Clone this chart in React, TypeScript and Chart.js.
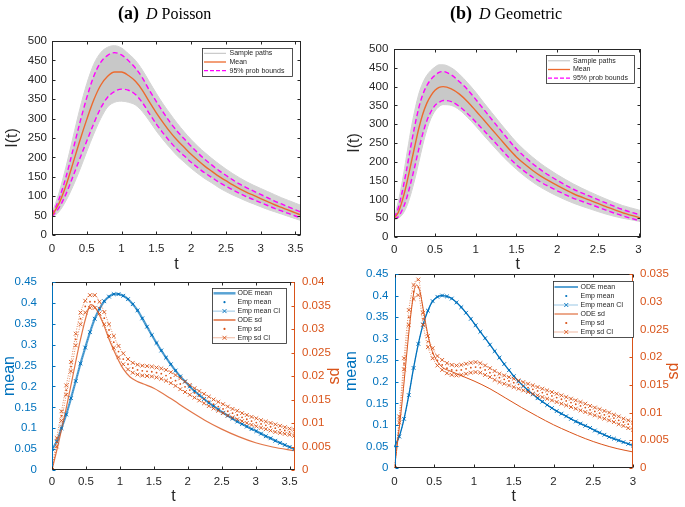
import React, { useEffect, useRef } from "react";
import { Chart, registerables } from "chart.js";
Chart.register(...registerables);

// ---------------- DATA ----------------
// (a) D Poisson — top panel: I(t)
const tTopA = [0, 0.1, 0.2, 0.3, 0.4, 0.5, 0.6, 0.7, 0.8, 0.9, 1.0, 1.1, 1.2, 1.3, 1.4, 1.5, 1.6, 1.7, 1.8, 1.9, 2.0, 2.1, 2.2, 2.3, 2.4, 2.5, 2.6, 2.7, 2.8, 2.9, 3.0, 3.1, 3.2, 3.3, 3.4, 3.5, 3.6];
const meanTopA = [50, 81, 127, 184, 243, 298, 348, 386, 409, 420, 420, 411, 396, 373, 343, 315, 289, 265, 244, 226, 208, 192, 177, 164, 151, 140, 129, 119, 110, 102, 94, 86, 78, 71, 64, 57, 50];
const upperTopA = [52, 92, 149, 218, 289, 354, 409, 445, 463, 470, 464, 449, 430, 405, 373, 344, 316, 290, 267.5, 248, 228.5, 211, 194.5, 180, 166, 154, 142, 131, 121.5, 113, 104.5, 96, 87.5, 80, 72.5, 65, 58];
const lowerTopA = [48, 70, 105, 150, 197, 242, 287, 327, 355, 370, 376, 373, 362, 341, 313, 286, 262, 240, 220.5, 204, 187.5, 173, 159.5, 148, 136, 126, 116, 107, 98.5, 91, 83.5, 76, 68.5, 62, 55.5, 49, 42];
const pathsMaxA = [56, 108, 175, 250, 325, 390, 440, 470, 484, 488, 482, 467, 450, 425, 395, 365, 337, 312, 288, 266, 246, 228, 212, 197, 183, 170, 158, 147, 137, 128, 120, 112, 104, 96, 89, 82, 75];
const pathsMinA = [45, 60, 88, 125, 168, 215, 260, 300, 330, 342, 345, 342, 335, 318, 294, 268, 245, 224, 204, 188, 172, 158, 145, 134, 122, 112, 103, 95, 87, 80, 73, 66, 60, 54, 48, 42, 36];

// (b) D Geometric — top panel: I(t)
const tTopB = [0, 0.05, 0.1, 0.15, 0.2, 0.25, 0.3, 0.35, 0.4, 0.45, 0.5, 0.55, 0.6, 0.7, 0.8, 0.9, 1.0, 1.1, 1.2, 1.3, 1.4, 1.5, 1.6, 1.7, 1.8, 1.9, 2.0, 2.2, 2.4, 2.6, 2.8, 3.0, 3.03];
const meanTopB = [50, 66, 98, 140, 190, 240, 288, 327, 356, 376, 390, 398, 400, 394, 380, 360, 336, 311, 286, 261, 236, 213, 194, 177, 162, 149, 137, 115, 98, 81, 65, 52, 50];
const upperTopB = [52, 78, 123, 178, 238, 294, 343, 379, 403, 419, 430, 438, 440, 431, 413, 392, 366, 339, 312, 285.5, 259, 234, 213.5, 195, 178.5, 164, 151, 127, 108.5, 90.5, 73.5, 60, 58];
const lowerTopB = [48, 54, 73, 102, 142, 186, 233, 275, 309, 333, 350, 358, 363, 360, 347, 328, 306, 283, 260, 236.5, 213, 192, 174.5, 159, 145.5, 134, 123, 103, 87.5, 71.5, 56.5, 44, 42];
const pathsMaxB = [55, 95, 150, 215, 280, 335, 380, 410, 430, 443, 452, 458, 458, 450, 433, 410, 385, 357, 330, 303, 277, 252, 231, 212, 195, 180, 166, 141, 120, 101, 84, 72, 70];
const pathsMinB = [45, 50, 60, 80, 112, 152, 198, 245, 285, 315, 335, 347, 352, 350, 338, 318, 295, 270, 246, 222, 200, 180, 162, 146, 132, 120, 109, 90, 75, 61, 50, 42, 40];

// (a) bottom panel: mean / sd
const tEmpA = [0, 0.07, 0.14, 0.21, 0.28, 0.35, 0.42, 0.49, 0.56, 0.63, 0.7, 0.77, 0.84, 0.91, 0.98, 1.05, 1.12, 1.19, 1.26, 1.33, 1.4, 1.47, 1.54, 1.61, 1.68, 1.75, 1.82, 1.89, 1.96, 2.03, 2.1, 2.17, 2.24, 2.31, 2.38, 2.45, 2.52, 2.59, 2.66, 2.73, 2.8, 2.87, 2.94, 3.01, 3.08, 3.15, 3.22, 3.29, 3.36, 3.43, 3.5, 3.57];
const meanA = [0.05, 0.068, 0.1, 0.133, 0.172, 0.213, 0.255, 0.293, 0.33, 0.362, 0.386, 0.404, 0.415, 0.421, 0.421, 0.417, 0.409, 0.397, 0.382, 0.363, 0.343, 0.323, 0.304, 0.286, 0.269, 0.253, 0.238, 0.224, 0.212, 0.2, 0.189, 0.179, 0.17, 0.161, 0.153, 0.145, 0.137, 0.13, 0.123, 0.116, 0.11, 0.104, 0.098, 0.093, 0.087, 0.081, 0.076, 0.07, 0.065, 0.06, 0.055, 0.05];
const sdLoA = [0, 0.005, 0.0105, 0.016, 0.021, 0.0265, 0.031, 0.0335, 0.0345, 0.0345, 0.0333, 0.031, 0.0285, 0.026, 0.024, 0.0225, 0.0214, 0.0207, 0.0203, 0.0201, 0.02, 0.0199, 0.0197, 0.0194, 0.019, 0.0185, 0.0179, 0.0172, 0.0166, 0.016, 0.0154, 0.0148, 0.0142, 0.0136, 0.0131, 0.0126, 0.0121, 0.0116, 0.0112, 0.0108, 0.0104, 0.01, 0.0096, 0.0093, 0.009, 0.0087, 0.0084, 0.0081, 0.0079, 0.0077, 0.0075, 0.0073];
const sdHiA = [0, 0.0068, 0.0125, 0.018, 0.023, 0.029, 0.0335, 0.036, 0.0372, 0.0372, 0.0358, 0.0336, 0.031, 0.0285, 0.0264, 0.0248, 0.0236, 0.0228, 0.0224, 0.0222, 0.0221, 0.022, 0.0218, 0.0216, 0.0213, 0.0208, 0.0202, 0.0195, 0.0188, 0.0181, 0.0174, 0.0168, 0.0162, 0.0156, 0.015, 0.0145, 0.014, 0.0135, 0.013, 0.0126, 0.0121, 0.0117, 0.0113, 0.011, 0.0106, 0.0103, 0.01, 0.0097, 0.0094, 0.0091, 0.0088, 0.0086];
const sdEmpA = [0, 0.0059, 0.0115, 0.017, 0.022, 0.0278, 0.0322, 0.0348, 0.0358, 0.0358, 0.0345, 0.0323, 0.0298, 0.0272, 0.0252, 0.0236, 0.0225, 0.0217, 0.0213, 0.0211, 0.021, 0.0209, 0.0207, 0.0205, 0.0201, 0.0196, 0.019, 0.0183, 0.0177, 0.017, 0.0164, 0.0158, 0.0152, 0.0146, 0.014, 0.0135, 0.013, 0.0125, 0.0121, 0.0117, 0.0112, 0.0108, 0.0104, 0.0101, 0.0098, 0.0095, 0.0092, 0.0089, 0.0086, 0.0084, 0.0081, 0.0079];
const tSdOdeA = [0, 0.1, 0.2, 0.3, 0.4, 0.5, 0.57, 0.65, 0.75, 0.85, 0.95, 1.05, 1.15, 1.25, 1.35, 1.5, 1.75, 2.0, 2.25, 2.5, 2.75, 3.0, 3.25, 3.58];
const sdOdeA = [0, 0.006, 0.0125, 0.0195, 0.0265, 0.0325, 0.0352, 0.0343, 0.0313, 0.0275, 0.0242, 0.0215, 0.0198, 0.0189, 0.0183, 0.0174, 0.0152, 0.0128, 0.0106, 0.0087, 0.0071, 0.0058, 0.0049, 0.0041];

// (b) bottom panel: mean / sd
const tEmpB = [0, 0.06, 0.12, 0.18, 0.24, 0.3, 0.36, 0.42, 0.48, 0.54, 0.6, 0.66, 0.72, 0.78, 0.84, 0.9, 0.96, 1.02, 1.08, 1.14, 1.2, 1.26, 1.32, 1.38, 1.44, 1.5, 1.56, 1.62, 1.68, 1.74, 1.8, 1.86, 1.92, 1.98, 2.04, 2.1, 2.16, 2.22, 2.28, 2.34, 2.4, 2.46, 2.52, 2.58, 2.64, 2.7, 2.76, 2.82, 2.88, 2.94, 3.0];
const meanB = [0.05, 0.073, 0.114, 0.169, 0.232, 0.288, 0.333, 0.365, 0.387, 0.397, 0.4, 0.398, 0.393, 0.384, 0.373, 0.36, 0.346, 0.331, 0.316, 0.301, 0.286, 0.271, 0.256, 0.241, 0.227, 0.213, 0.201, 0.19, 0.18, 0.171, 0.162, 0.154, 0.146, 0.139, 0.132, 0.126, 0.12, 0.114, 0.108, 0.103, 0.098, 0.093, 0.087, 0.082, 0.077, 0.072, 0.068, 0.064, 0.06, 0.056, 0.052];
const sdLoB = [0, 0.0082, 0.0178, 0.0258, 0.0305, 0.0312, 0.0258, 0.0218, 0.0198, 0.0185, 0.0177, 0.0171, 0.0168, 0.0167, 0.0168, 0.017, 0.0172, 0.0173, 0.0172, 0.0168, 0.0164, 0.0159, 0.0155, 0.0152, 0.0149, 0.0146, 0.0143, 0.014, 0.0137, 0.0134, 0.0131, 0.0128, 0.0125, 0.0122, 0.0119, 0.0116, 0.0113, 0.011, 0.0107, 0.0104, 0.0101, 0.0098, 0.0095, 0.0092, 0.0089, 0.0086, 0.0083, 0.0079, 0.0076, 0.0072, 0.0069];
const sdHiB = [0, 0.0093, 0.0198, 0.0285, 0.033, 0.034, 0.028, 0.0238, 0.0216, 0.0202, 0.0195, 0.0189, 0.0186, 0.0185, 0.0186, 0.0188, 0.019, 0.0191, 0.0189, 0.0185, 0.018, 0.0175, 0.017, 0.0167, 0.0164, 0.0161, 0.0158, 0.0155, 0.0152, 0.0149, 0.0146, 0.0143, 0.014, 0.0137, 0.0134, 0.0131, 0.0128, 0.0125, 0.0122, 0.0119, 0.0116, 0.0112, 0.0109, 0.0106, 0.0103, 0.01, 0.0096, 0.0093, 0.0089, 0.0086, 0.0082];
const sdEmpB = [0, 0.0088, 0.0188, 0.0272, 0.0318, 0.0326, 0.0269, 0.0228, 0.0207, 0.0194, 0.0186, 0.018, 0.0177, 0.0176, 0.0177, 0.0179, 0.0181, 0.0182, 0.0181, 0.0177, 0.0172, 0.0167, 0.0163, 0.016, 0.0157, 0.0154, 0.0151, 0.0148, 0.0145, 0.0142, 0.0139, 0.0136, 0.0133, 0.013, 0.0127, 0.0124, 0.0121, 0.0118, 0.0115, 0.0112, 0.0109, 0.0105, 0.0102, 0.0099, 0.0096, 0.0093, 0.009, 0.0086, 0.0083, 0.0079, 0.0076];
const tSdOdeB = [0, 0.05, 0.1, 0.15, 0.2, 0.25, 0.28, 0.32, 0.36, 0.4, 0.45, 0.5, 0.6, 0.7, 0.8, 0.9, 1.0, 1.2, 1.4, 1.6, 1.8, 2.0, 2.2, 2.4, 2.6, 2.8, 3.0];
const sdOdeB = [0, 0.006, 0.0125, 0.02, 0.027, 0.0322, 0.033, 0.0318, 0.0288, 0.0255, 0.0222, 0.0202, 0.0182, 0.0175, 0.0169, 0.0163, 0.0157, 0.0143, 0.0126, 0.0109, 0.0093, 0.0078, 0.0065, 0.0053, 0.0043, 0.0035, 0.0029];

// ticks
const xTicksA = [0, 0.5, 1, 1.5, 2, 2.5, 3, 3.5];
const xTicksB = [0, 0.5, 1, 1.5, 2, 2.5, 3];
const iTicks = [0, 50, 100, 150, 200, 250, 300, 350, 400, 450, 500];
const meanTicks = [0, 0.05, 0.1, 0.15, 0.2, 0.25, 0.3, 0.35, 0.4, 0.45];
const sdTicksA = [0, 0.005, 0.01, 0.015, 0.02, 0.025, 0.03, 0.035, 0.04];
const sdTicksB = [0, 0.005, 0.01, 0.015, 0.02, 0.025, 0.03, 0.035];

// ---------------- STYLE ----------------
const FONT = '"Liberation Sans", Arial, Helvetica, sans-serif';
Chart.defaults.font.family = FONT;
const AXIS = "#262626";
const BLUE = "#0072BD";
const ORANGE = "#D95319";
const MEAN_OR = "#EC6A2E";
const MAGENTA = "#FF00FF";
const GRAY_OUT = "rgb(212,212,212)";
const GRAY_IN = "rgb(200,200,200)";
const TICK_SIZE = 11.5;
const TITLE_SIZE = 16;

const pts = (xs: number[], ys: number[]) => ys.map((y, i) => ({ x: xs[i], y }));

type LegendItem = { label: string; color: string; width?: number; dash?: number[]; line?: boolean; marker?: "dot" | "x" };
type LegendCfg = { x: number; y: number; w: number; h: number; row0: number; step: number; lx0: number; lx1: number; tx: number; items: LegendItem[] };
type BoxCfg = { left: string; right: string; top: string; bottom: string; rightTitle?: { text: string; color: string; offset: number }; legend: LegendCfg };

function boxPlugin(cfg: BoxCfg) {
  return {
    id: "mbox",
    afterDraw(chart: any) {
      const { ctx, chartArea: a, scales } = chart;
      const L = Math.round(a.left) + 0.5;
      const R = Math.round(a.right) - 0.5;
      const T = Math.round(a.top) + 0.5;
      const B = Math.round(a.bottom) - 0.5;
      ctx.save();
      ctx.lineWidth = 1;
      const seg = (x1: number, y1: number, x2: number, y2: number, c: string) => {
        ctx.strokeStyle = c;
        ctx.beginPath();
        ctx.moveTo(x1, y1);
        ctx.lineTo(x2, y2);
        ctx.stroke();
      };
      seg(L - 0.5, B, R + 0.5, B, cfg.bottom);
      seg(L - 0.5, T, R + 0.5, T, cfg.top);
      seg(L, T, L, B, cfg.left);
      seg(R, T, R, B, cfg.right);
      const tl = 3;
      const xs = scales.x;
      xs.ticks.forEach((t: any) => {
        const px = Math.round(xs.getPixelForValue(t.value)) + 0.5;
        seg(px, B, px, B - tl, cfg.bottom);
        seg(px, T, px, T + tl, cfg.top);
      });
      const yl = scales.y;
      yl.ticks.forEach((t: any) => {
        const py = Math.round(yl.getPixelForValue(t.value)) + 0.5;
        seg(L, py, L + tl, py, cfg.left);
        if (!scales.y1) seg(R, py, R - tl, py, cfg.right);
      });
      if (scales.y1) {
        const yr = scales.y1;
        yr.ticks.forEach((t: any) => {
          const py = Math.round(yr.getPixelForValue(t.value)) + 0.5;
          seg(R, py, R - tl, py, cfg.right);
        });
      }
      if (cfg.rightTitle) {
        ctx.save();
        ctx.translate(a.right + cfg.rightTitle.offset, (a.top + a.bottom) / 2);
        ctx.rotate(-Math.PI / 2);
        ctx.font = `${TITLE_SIZE}px ${FONT}`;
        ctx.fillStyle = cfg.rightTitle.color;
        ctx.textAlign = "center";
        ctx.textBaseline = "middle";
        ctx.fillText(cfg.rightTitle.text, 0, 0);
        ctx.restore();
      }
      // legend
      const lg = cfg.legend;
      ctx.fillStyle = "#fff";
      ctx.fillRect(lg.x, lg.y, lg.w, lg.h);
      ctx.strokeStyle = AXIS;
      ctx.lineWidth = 0.8;
      ctx.strokeRect(lg.x + 0.5, lg.y + 0.5, lg.w, lg.h);
      lg.items.forEach((it, i) => {
        const y = lg.y + lg.row0 + i * lg.step;
        if (it.line) {
          ctx.save();
          ctx.strokeStyle = it.color;
          ctx.lineWidth = it.width || 1;
          ctx.setLineDash(it.dash || []);
          ctx.beginPath();
          ctx.moveTo(lg.x + lg.lx0, y);
          ctx.lineTo(lg.x + lg.lx1, y);
          ctx.stroke();
          ctx.restore();
        }
        const cx = lg.x + (lg.lx0 + lg.lx1) / 2;
        if (it.marker === "dot") {
          ctx.fillStyle = it.color;
          ctx.beginPath();
          ctx.arc(cx, y, 1.1, 0, Math.PI * 2);
          ctx.fill();
        }
        if (it.marker === "x") {
          const r = 2;
          ctx.save();
          ctx.strokeStyle = it.color;
          ctx.lineWidth = 0.9;
          ctx.beginPath();
          ctx.moveTo(cx - r, y - r);
          ctx.lineTo(cx + r, y + r);
          ctx.moveTo(cx + r, y - r);
          ctx.lineTo(cx - r, y + r);
          ctx.stroke();
          ctx.restore();
        }
        ctx.fillStyle = AXIS;
        ctx.font = `7px ${FONT}`;
        ctx.textAlign = "left";
        ctx.textBaseline = "middle";
        ctx.fillText(it.label, lg.x + lg.tx, y);
      });
      ctx.restore();
    },
  };
}

function tickOpts(ticks: number[], pad: number, color: string) {
  return {
    afterBuildTicks: (s: any) => {
      s.ticks = ticks.map((v) => ({ value: v }));
    },
    ticks: { autoSkip: false, maxRotation: 0, minRotation: 0, padding: pad, color, font: { size: TICK_SIZE }, callback: (v: any) => String(v) },
    grid: { display: false, drawTicks: false },
    border: { display: false },
  };
}

type TopP = {
  t: number[]; mean: number[]; up: number[]; lo: number[]; pMax: number[]; pMin: number[];
  xmax: number; xTicks: number[]; pad: any; wL: number; hX: number; yPad: number; xPad: number; legend: LegendCfg;
};

function topConfig(p: TopP): any {
  return {
    type: "line",
    data: {
      datasets: [
        { data: pts(p.t, p.pMax), borderColor: GRAY_OUT, backgroundColor: GRAY_OUT, borderWidth: 1, fill: "+1", pointRadius: 0, cubicInterpolationMode: "monotone", order: 6 },
        { data: pts(p.t, p.pMin), borderColor: GRAY_OUT, borderWidth: 1, fill: false, pointRadius: 0, cubicInterpolationMode: "monotone", order: 5 },
        { data: pts(p.t, p.mean), borderColor: MEAN_OR, borderWidth: 1.4, pointRadius: 0, fill: false, cubicInterpolationMode: "monotone", order: 1 },
        { data: pts(p.t, p.up), borderColor: MAGENTA, backgroundColor: GRAY_IN, borderWidth: 1.4, borderDash: [5, 3], pointRadius: 0, fill: "+1", cubicInterpolationMode: "monotone", order: 3 },
        { data: pts(p.t, p.lo), borderColor: MAGENTA, borderWidth: 1.4, borderDash: [5, 3], pointRadius: 0, fill: false, cubicInterpolationMode: "monotone", order: 2 },
      ],
    },
    options: {
      responsive: false,
      animation: false,
      events: [],
      layout: { padding: p.pad },
      plugins: { legend: { display: false }, tooltip: { enabled: false } },
      scales: {
        x: {
          type: "linear", min: 0, max: p.xmax,
          ...tickOpts(p.xTicks, p.xPad, AXIS),
          afterFit: (s: any) => { s.height = p.hX; },
          title: { display: true, text: "t", color: AXIS, font: { size: TITLE_SIZE }, padding: { top: 0, bottom: 1 } },
        },
        y: {
          type: "linear", position: "left", min: 0, max: 500,
          ...tickOpts(iTicks, p.yPad, AXIS),
          afterFit: (s: any) => { s.width = p.wL; },
          title: { display: true, text: "I(t)", color: AXIS, font: { size: TITLE_SIZE }, padding: { top: 0, bottom: 0 } },
        },
      },
    },
    plugins: [
      boxPlugin({ left: AXIS, right: AXIS, top: AXIS, bottom: AXIS, legend: p.legend }),
    ],
  };
}

type BotP = {
  t: number[]; mean: number[]; sdLo: number[]; sdHi: number[]; sdEmp: number[]; tOde: number[]; sdOde: number[];
  xmax: number; xTicks: number[]; sdMax: number; sdTicks: number[];
  pad: any; wL: number; wR: number; hX: number; yPad: number; yrPad: number; xPad: number;
  odeMeanColor: string; odeMeanWidth: number; odeSdColor: string; odeSdWidth: number; sdTitleOffset: number; legend: LegendCfg;
};

function botConfig(p: BotP): any {
  const xmark = (color: string) => ({
    pointStyle: "crossRot", pointRadius: 2.7, pointBorderColor: color, pointBorderWidth: 0.9, pointBackgroundColor: color,
    borderColor: color, borderWidth: 0.7, borderDash: [1, 1.5], fill: false, cubicInterpolationMode: "monotone",
  });
  return {
    type: "line",
    data: {
      datasets: [
        { label: "ODE mean", yAxisID: "y", data: pts(p.t, p.mean), borderColor: p.odeMeanColor, borderWidth: p.odeMeanWidth, pointRadius: 0, fill: false, cubicInterpolationMode: "monotone", order: 6 },
        { label: "Emp mean", yAxisID: "y", data: pts(p.t, p.mean), showLine: false, pointStyle: "circle", pointRadius: 1, pointBackgroundColor: BLUE, pointBorderWidth: 0, order: 3 },
        { label: "Emp mean CI", yAxisID: "y", data: pts(p.t, p.mean), ...xmark(BLUE), order: 4 },
        { label: "ODE sd", yAxisID: "y1", data: pts(p.tOde, p.sdOde), borderColor: p.odeSdColor, borderWidth: p.odeSdWidth, pointRadius: 0, fill: false, cubicInterpolationMode: "monotone", order: 5 },
        { label: "Emp sd", yAxisID: "y1", data: pts(p.t, p.sdEmp), showLine: false, pointStyle: "circle", pointRadius: 0.9, pointBackgroundColor: ORANGE, pointBorderWidth: 0, order: 1 },
        { label: "Emp sd CI hi", yAxisID: "y1", data: pts(p.t, p.sdHi), ...xmark(ORANGE), order: 2 },
        { label: "Emp sd CI lo", yAxisID: "y1", data: pts(p.t, p.sdLo), ...xmark(ORANGE), order: 2 },
      ],
    },
    options: {
      responsive: false,
      animation: false,
      events: [],
      layout: { padding: p.pad },
      plugins: { legend: { display: false }, tooltip: { enabled: false } },
      scales: {
        x: {
          type: "linear", min: 0, max: p.xmax,
          ...tickOpts(p.xTicks, p.xPad, AXIS),
          afterFit: (s: any) => { s.height = p.hX; },
          title: { display: true, text: "t", color: AXIS, font: { size: TITLE_SIZE }, padding: { top: 0, bottom: 1 } },
        },
        y: {
          type: "linear", position: "left", min: 0, max: 0.45,
          ...tickOpts(meanTicks, p.yPad, BLUE),
          afterFit: (s: any) => { s.width = p.wL; },
          title: { display: true, text: "mean", color: BLUE, font: { size: TITLE_SIZE }, padding: { top: 0, bottom: 0 } },
        },
        y1: {
          type: "linear", position: "right", min: 0, max: p.sdMax,
          ...tickOpts(p.sdTicks, p.yrPad, ORANGE),
          afterFit: (s: any) => { s.width = p.wR; },
          title: { display: false },
        },
      },
    },
    plugins: [
      boxPlugin({ left: BLUE, right: ORANGE, top: AXIS, bottom: AXIS, rightTitle: { text: "sd", color: ORANGE, offset: p.sdTitleOffset }, legend: p.legend }),
    ],
  };
}

const topLegendItems: LegendItem[] = [
  { label: "Sample paths", color: "rgb(190,190,190)", width: 1, line: true },
  { label: "Mean", color: MEAN_OR, width: 1.3, line: true },
  { label: "95% prob bounds", color: MAGENTA, width: 1.3, dash: [4, 2], line: true },
];

const botLegendItems = (odeMeanColor: string, odeMeanW: number, odeSdColor: string, odeSdW: number): LegendItem[] => [
  { label: "ODE mean", color: odeMeanColor, width: odeMeanW, line: true },
  { label: "Emp mean", color: BLUE, marker: "dot" },
  { label: "Emp mean CI", color: BLUE, width: 0.8, dash: [1, 1], line: true, marker: "x" },
  { label: "ODE sd", color: odeSdColor, width: odeSdW, line: true },
  { label: "Emp sd", color: ORANGE, marker: "dot" },
  { label: "Emp sd CI", color: ORANGE, width: 0.8, dash: [1, 1], line: true, marker: "x" },
];

const ODE_MEAN_A = "rgba(0,114,189,0.65)";
const ODE_SD_A = "rgba(217,83,25,0.8)";

const configs = [
  () => topConfig({
    t: tTopA, mean: meanTopA, up: upperTopA, lo: lowerTopA, pMax: pathsMaxA, pMin: pathsMinA,
    xmax: 3.58, xTicks: xTicksA,
    pad: { left: 3, top: 41, right: 384, bottom: 231.4 }, wL: 49, hX: 40.6, yPad: 5, xPad: 6.5,
    legend: { x: 202, y: 48, w: 90, h: 28, row0: 5.3, step: 8.7, lx0: 2, lx1: 24, tx: 27.5, items: topLegendItems },
  }),
  () => topConfig({
    t: tTopB, mean: meanTopB, up: upperTopB, lo: lowerTopB, pMax: pathsMaxB, pMin: pathsMinB,
    xmax: 3.03, xTicks: xTicksB,
    pad: { left: 345.4, top: 49, right: 44, bottom: 231.4 }, wL: 48.9, hX: 38.6, yPad: 6, xPad: 5.5,
    legend: { x: 546, y: 55, w: 88, h: 28, row0: 5.8, step: 8.7, lx0: 2, lx1: 24, tx: 27, items: topLegendItems },
  }),
  () => botConfig({
    t: tEmpA, mean: meanA, sdLo: sdLoA, sdHi: sdHiA, sdEmp: sdEmpA, tOde: tSdOdeA, sdOde: sdOdeA,
    xmax: 3.58, xTicks: xTicksA, sdMax: 0.04, sdTicks: sdTicksA,
    pad: { left: 0, top: 282, right: 340, bottom: 0.3 }, wL: 52, wR: 50, hX: 36.7, yPad: 15, yrPad: 7, xPad: 5,
    odeMeanColor: ODE_MEAN_A, odeMeanWidth: 2.2, odeSdColor: ODE_SD_A, odeSdWidth: 1.2, sdTitleOffset: 40,
    legend: { x: 212, y: 288, w: 74, h: 55, row0: 5.3, step: 8.9, lx0: 1.5, lx1: 23.5, tx: 25.5, items: botLegendItems(ODE_MEAN_A, 2.5, ODE_SD_A, 1.6) },
  }),
  () => botConfig({
    t: tEmpB, mean: meanB, sdLo: sdLoB, sdHi: sdHiB, sdEmp: sdEmpB, tOde: tSdOdeB, sdOde: sdOdeB,
    xmax: 3.0, xTicks: xTicksB, sdMax: 0.035, sdTicks: sdTicksB,
    pad: { left: 342.4, top: 274, right: 2, bottom: 0 }, wL: 52.1, wR: 50, hX: 39, yPad: 6, yrPad: 7, xPad: 6.5,
    odeMeanColor: BLUE, odeMeanWidth: 1.3, odeSdColor: ORANGE, odeSdWidth: 1, sdTitleOffset: 41,
    legend: { x: 553, y: 281, w: 80, h: 56, row0: 6, step: 9, lx0: 1.5, lx1: 25, tx: 27.5, items: botLegendItems(BLUE, 1.3, ORANGE, 1) },
  }),
];

const SERIF = '"Liberation Serif", "Times New Roman", Times, serif';

function PanelTitle({ left, letter, name }: { left: number; letter: string; name: string }) {
  return (
    <div style={{ position: "absolute", left, top: 3, fontFamily: SERIF, fontSize: 16, lineHeight: "20px", whiteSpace: "nowrap", color: "#000" }}>
      <b style={{ fontSize: 18, marginRight: 7 }}>{letter}</b>
      <i>D</i> {name}
    </div>
  );
}

export default function App() {
  const r0 = useRef<HTMLCanvasElement>(null);
  const r1 = useRef<HTMLCanvasElement>(null);
  const r2 = useRef<HTMLCanvasElement>(null);
  const r3 = useRef<HTMLCanvasElement>(null);
  useEffect(() => {
    const refs = [r0, r1, r2, r3];
    const charts = refs.map((r, i) => new Chart(r.current as HTMLCanvasElement, configs[i]()));
    return () => charts.forEach((c) => c.destroy());
  }, []);
  const cs: React.CSSProperties = { position: "absolute", left: 0, top: 0, width: 685, height: 507 };
  return (
    <div style={{ position: "absolute", left: 0, top: 0, width: 685, height: 507, background: "#fff", overflow: "hidden" }}>
      <canvas ref={r0} width={685} height={507} style={cs} />
      <canvas ref={r1} width={685} height={507} style={cs} />
      <canvas ref={r2} width={685} height={507} style={cs} />
      <canvas ref={r3} width={685} height={507} style={cs} />
      <PanelTitle left={118} letter="(a)" name="Poisson" />
      <PanelTitle left={450} letter="(b)" name="Geometric" />
    </div>
  );
}
